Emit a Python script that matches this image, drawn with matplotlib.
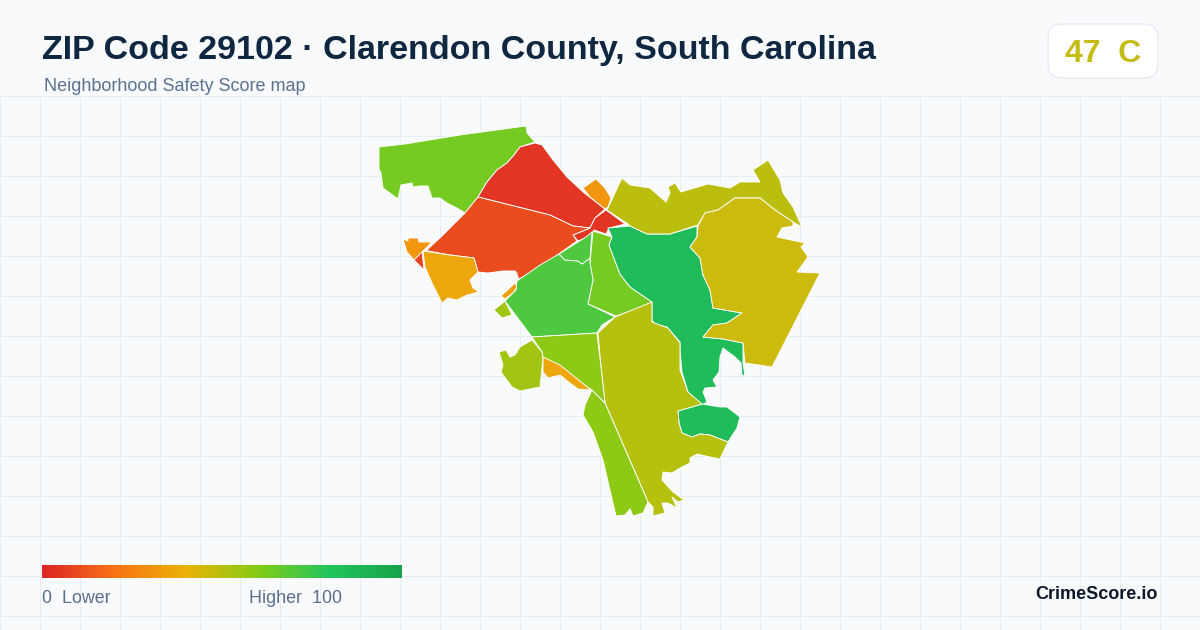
import numpy as np
import matplotlib
matplotlib.use('Agg')
import matplotlib.pyplot as plt
from matplotlib.colors import LinearSegmentedColormap
from matplotlib.patches import Polygon, FancyBboxPatch

plt.rcParams['font.family'] = ['Liberation Sans', 'DejaVu Sans']

title = "ZIP Code 29102 · Clarendon County, South Carolina"
subtitle = "Neighborhood Safety Score map"
score_text = "47  C"
brand = "CrimeScore.io"
legend_low = "0  Lower"
legend_high = "Higher  100"

# tract outlines, in pixels
nw_green = [(379,147),(405,144),(460,135),(526,126),(527,133),(535,142),(520,147),(514,155),(507,163),(497,170),(487,182),(478,197),(465,213),(457,208),(447,203),(440,198),(432,198),(428,186),(420,186),(413,187),(412,183),(401,185),(398,199),(383,188),(381,173),(379,169)]
north_red = [(535,143),(542,145),(553,160),(567,177),(583,192),(605,209),(595,218),(590,228),(573,226),(550,215),(478,197),(487,182),(497,170),(507,163),(514,155),(520,147)]
small_red = [(606,210),(625,224),(609,228),(606,234),(594,230),(592,235),(578,241),(573,235),(590,228),(595,218)]
west_red = [(478,197),(550,215),(573,226),(590,228),(573,235),(577,241),(560,253),(542,267),(519,279),(515,271),(503,271),(488,273),(478,272),(474,258),(450,255),(423,250),(427,250),(443,235),(453,225),(465,213)]
sliver_red = [(422,251),(424,270),(414,260)]
west_orange = [(403,239),(408,241),(408,238),(418,238),(419,242),(432,242),(423,251),(414,260),(407,252)]
west_amber = [(423,251),(450,255),(474,258),(478,272),(470,280),(473,288),(479,292),(467,295),(457,300),(448,298),(442,303),(432,283),(425,267)]
top_orange = [(596,179),(605,188),(611,198),(608,207),(605,209),(590,197),(583,188)]
chip_orange = [(515,283),(517,287),(513,293),(505,299),(501,296)]
chip_orange2 = [(515,271),(517,273),(517,279)]
chip_lime = [(505,301),(512,315),(502,318),(494,310)]
center_lime = [(593,231),(612,237),(609,245),(620,274),(630,287),(652,302),(637,309),(616,316),(588,304),(593,280),(590,263)]
mid_green = [(517,281),(540,265),(559,254),(565,260),(578,261),(582,264),(590,258),(590,263),(593,280),(588,304),(615,317),(602,325),(597,333),(532,337),(505,301),(516,290)]
mid_green_top = [(559,254),(586,237),(592,232),(590,258),(582,264),(578,261),(565,260)]
big_green = [(608,228),(630,226),(647,234),(670,234),(697,226),(697,237),(690,247),(700,258),(703,275),(710,290),(713,308),(742,313),(727,323),(713,325),(703,337),(723,339),(743,343),(743,363),(745,376),(742,375),(741,363),(735,357),(723,348),(720,357),(719,372),(713,380),(717,387),(705,388),(703,392),(707,402),(702,405),(688,392),(682,372),(680,350),(680,342),(667,327),(655,324),(652,320),(652,302),(630,287),(620,274),(609,245),(612,237)]
south_green = [(678,411),(702,404),(720,407),(727,407),(740,417),(737,428),(728,442),(710,435),(700,434),(692,437),(682,433),(679,423)]
south_olive = [(598,333),(615,317),(652,302),(652,322),(668,328),(680,343),(680,370),(688,392),(702,404),(678,411),(679,423),(682,433),(692,437),(700,434),(710,435),(728,442),(720,459),(710,457),(697,454),(690,458),(690,463),(680,468),(672,473),(663,472),(662,480),(673,492),(684,500),(678,502),(672,497),(677,508),(668,503),(662,503),(665,513),(653,516),(653,507),(648,502),(605,403),(601,367)]
south_lime = [(592,390),(605,403),(648,502),(643,513),(633,516),(630,509),(625,515),(616,516),(603,460),(593,432),(583,415),(585,405)]
lower_lime = [(532,337),(597,333),(601,367),(605,403),(592,390),(543,357),(542,352)]
south_amber = [(543,357),(560,365),(591,390),(578,389),(570,383),(560,375),(548,378),(543,372)]
left_lime = [(532,340),(542,352),(543,358),(540,387),(520,391),(512,387),(501,372),(503,365),(499,352),(506,350),(510,357),(515,355),(520,347)]
ne_olive = [(628,224),(607,210),(615,193),(622,178),(630,185),(650,188),(666,202),(670,193),(668,187),(675,183),(681,192),(708,184),(730,188),(740,182),(760,182),(753,170),(768,160),(780,180),(783,193),(793,207),(802,227),(793,222),(775,210),(760,198),(735,198),(718,210),(705,213),(698,225),(670,234),(647,234),(630,226)]
east_yellow = [(698,226),(705,213),(718,210),(735,198),(760,198),(775,210),(793,222),(793,226),(782,228),(777,237),(805,243),(801,247),(808,257),(797,272),(820,273),(772,367),(745,363),(743,343),(723,339),(703,337),(713,325),(727,323),(742,313),(713,308),(710,290),(703,275),(700,258),(690,247),(697,237)]

tracts = [nw_green, north_red, small_red, west_red, sliver_red, west_orange, west_amber,
          top_orange, chip_orange, chip_orange2, chip_lime, center_lime, mid_green, mid_green_top,
          big_green, south_green, south_olive, south_lime, lower_lime, south_amber, left_lime,
          ne_olive, east_yellow]
scores = [63, 4, 4, 10, 8, 31, 36, 31, 33, 33, 54, 63, 71, 71,
          85, 85, 50, 58, 58, 36, 54, 49, 46]

stops = [0, 0.2, 0.4, 0.6, 0.8, 1]
stop_colors = ['#dc2626', '#f97316', '#eab308', '#84cc16', '#22c55e', '#16a34a']
cmap = LinearSegmentedColormap.from_list('score', list(zip(stops, stop_colors)))

fig = plt.figure(figsize=(12, 6.3), dpi=100, facecolor='#f8fafc')
ax = fig.add_axes([0, 0, 1, 1])
ax.set_facecolor('#f8fafc')

# background grid only below the header
ax.vlines(np.arange(0, 1201, 40), 96, 630, color='#e3eff3', lw=0.72, zorder=1)
ax.hlines(np.arange(96, 630, 40), 0, 1200, color='#e3eff3', lw=0.72, zorder=1)

for tract, score in zip(tracts, scores):
    ax.add_patch(Polygon(tract, closed=True, facecolor=cmap(score / 100), edgecolor='white',
                         lw=0.65, joinstyle='round', zorder=2))

# legend bar
grad = np.linspace(0, 1, 360).reshape(1, -1)
ax.imshow(grad, cmap=cmap, extent=(42, 402, 578, 565), aspect='auto', zorder=3)

# score badge
ax.add_patch(FancyBboxPatch((1062, 38), 82, 26, boxstyle='round,pad=14,rounding_size=14',
                            facecolor='white', edgecolor='#e2e8f0', lw=0.8, zorder=3))

ax.text(42, 59, title, fontsize=24.5, fontweight='bold', color='#0f2740', va='baseline')
ax.text(44, 91, subtitle, fontsize=12.95, color='#5b7290', va='baseline')
ax.text(1103, 62, score_text, fontsize=23, fontweight='bold', color='#c4bc14', va='baseline', ha='center', zorder=4)
ax.text(42, 603, legend_low, fontsize=12.9, color='#5b6f8c', va='baseline')
ax.text(249, 603, legend_high, fontsize=12.9, color='#5b6f8c', va='baseline')
ax.text(1158, 599, brand, fontsize=13, fontweight='bold', color='#0f172a', va='baseline', ha='right')

ax.set_xlim(0, 1200)
ax.set_ylim(630, 0)
ax.axis('off')

fig.savefig('out.png', dpi=100, facecolor=fig.get_facecolor())
